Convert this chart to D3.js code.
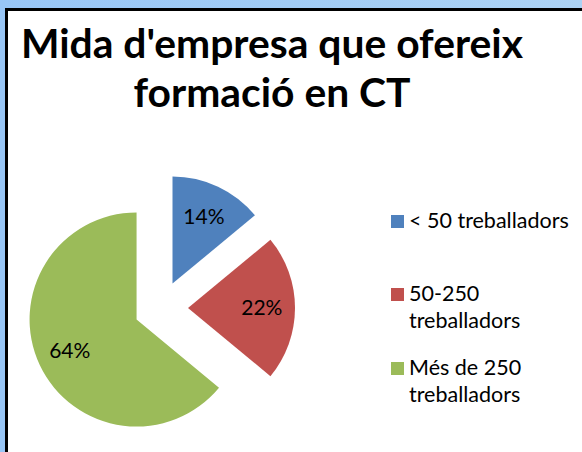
<!DOCTYPE html>
<html><head><meta charset="utf-8">
<script src="https://cdn.jsdelivr.net/npm/d3@7/dist/d3.min.js"></script>
<style>html,body{margin:0;padding:0;background:#fff;}svg{display:block;}</style>
</head><body>
<script>
const title = ["Mida d'empresa que ofereix", "formació en CT"];
const categories = ["< 50 treballadors", "50-250 treballadors", "Més de 250 treballadors"];
const legendLines = [["< 50 treballadors"], ["50-250", "treballadors"], ["Més de 250", "treballadors"]];
const values = [14, 22, 64];
const colors = ["#4f81bd", "#c0504d", "#9bbb59"];

const W = 582, H = 452;
const svg = d3.select("body").append("svg").attr("width", W).attr("height", H);
const defs = svg.append("defs");
const grad = defs.append("linearGradient").attr("id", "bg").attr("x1", "0").attr("x2", "1").attr("y1", "0").attr("y2", "0");
grad.append("stop").attr("offset", "0").attr("stop-color", "#98c6f6");
grad.append("stop").attr("offset", "1").attr("stop-color", "#acd2f4");
svg.append("rect").attr("width", W).attr("height", H).attr("fill", "url(#bg)");
svg.append("rect").attr("x", 6.5).attr("y", 9.5).attr("width", W).attr("height", H)
  .attr("fill", "#fff").attr("stroke", "#000").attr("stroke-width", 3);

const font = "Lato, 'Noto Sans', sans-serif";
svg.selectAll("text.title").data(title).join("text").attr("class", "title")
  .attr("x", 272).attr("y", (d, i) => 58 + i * 49)
  .attr("text-anchor", "middle").attr("font-family", font).attr("font-weight", "bold")
  .attr("font-size", 40.8).attr("fill", "#000").text(d => d);

const cx = 161, cy = 308, r = 107, explode = 27;
const pie = d3.pie().sort(null).value(d => d).startAngle(0).endAngle(2 * Math.PI);
const arcs = pie(values);
const arc = d3.arc().innerRadius(0).outerRadius(r);
const g = svg.append("g").attr("transform", `translate(${cx},${cy})`);
const off = d => { const a = (d.startAngle + d.endAngle) / 2; return [Math.sin(a), -Math.cos(a)]; };
g.selectAll("path").data(arcs).join("path")
  .attr("transform", d => { const [x, y] = off(d); return `translate(${x * explode},${y * explode})`; })
  .attr("d", arc).attr("fill", (d, i) => colors[i]);
g.selectAll("text").data(arcs).join("text")
  .attr("x", d => { const [x] = off(d); return x * (explode + r * 0.69); })
  .attr("y", d => { const [, y] = off(d); return y * (explode + r * 0.69); })
  .attr("dy", "0.35em").attr("text-anchor", "middle")
  .attr("font-family", font).attr("font-size", 21).attr("fill", "#000")
  .text(d => d.data + "%");

const legendY = [228, 301, 375];
const lg = svg.append("g");
legendLines.forEach((lines, i) => {
  lg.append("rect").attr("x", 391).attr("y", legendY[i] - 13).attr("width", 13).attr("height", 13).attr("fill", colors[i]);
  lines.forEach((t, j) => {
    lg.append("text").attr("x", 409).attr("y", legendY[i] + j * 27)
      .attr("font-family", font).attr("font-size", 21.5).attr("fill", "#000").text(t);
  });
});
</script>
</body></html>
